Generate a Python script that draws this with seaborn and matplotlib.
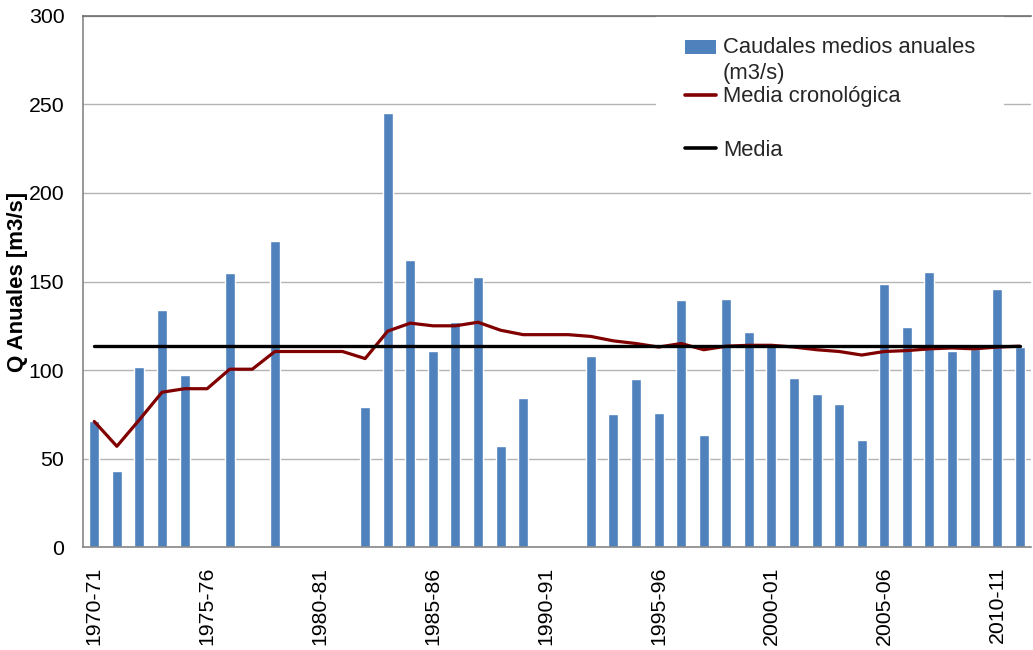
import numpy as np
import pandas as pd
import matplotlib
matplotlib.use("Agg")
import matplotlib.pyplot as plt
from matplotlib.patches import Patch, Rectangle
from matplotlib.lines import Line2D
from matplotlib.legend_handler import HandlerPatch
import seaborn as sns

# ---- data ----
years = [f"{y}-{str(y + 1)[-2:]}" for y in range(1970, 2012)]
caudales = [71, 43, 102, 134, 97, np.nan, 155, np.nan, 173, np.nan,
            np.nan, np.nan, 79, 245, 162, 111, 127, 152.5, 57, 84.5,
            np.nan, np.nan, 108, 75, 95, 76, 139.5, 63.5, 140, 121.5,
            114.5, 95.5, 86.5, 81, 60.5, 148.5, 124.5, 155.5, 111, 112,
            146, 113]
media_crono = [71, 57, 72, 87.5, 89.5, 89.5, 100.5, 100.5, 110.5, 110.5,
               110.5, 110.5, 106.5, 122, 126.5, 125, 125, 127, 122.5, 120,
               120, 120, 119, 116.5, 115, 113, 115, 111.5, 113.5, 114,
               114, 113, 111.5, 110.5, 108.5, 110.5, 111, 112, 112.5, 112,
               113, 113.5]
media = 113.5
tick_labels = ["1970-71", "1975-76", "1980-81", "1985-86", "1990-91",
               "1995-96", "2000-01", "2005-06", "2010-11"]
y_ticks = [0, 50, 100, 150, 200, 250, 300]

lbl_bar = "Caudales medios anuales\n(m3/s)"
lbl_crono = "Media cronológica"
lbl_media = "Media"

df = pd.DataFrame({"year": years, "caudal": caudales,
                   "crono": media_crono, "media": [media] * len(years)})

# ---- style ----
sns.set_theme(style="white")
plt.rcParams["font.family"] = ["Liberation Sans", "DejaVu Sans"]

BLUE = "#4f81bd"
RED = "#800000"

fig = plt.figure(figsize=(10.33, 6.5), dpi=100)
ax = fig.add_axes([83 / 1033, 1 - 547.3 / 650, 948 / 1033, (547.3 - 15.7) / 650])

sns.barplot(data=df, x="year", y="caudal", order=years, color=BLUE,
            saturation=1, width=0.44, ax=ax, zorder=2)
pos = np.arange(len(years))
sns.lineplot(x=pos, y=df["crono"].to_numpy(), color=RED, linewidth=2.3,
             ax=ax, sort=False, zorder=3)
sns.lineplot(x=pos, y=df["media"].to_numpy(), color="black", linewidth=2.4,
             ax=ax, sort=False, zorder=4)

ax.set_xlim(-0.5, len(years) - 0.5)
ax.set_ylim(0, 300)
ax.set_yticks(y_ticks)
ax.set_yticklabels([str(v) for v in y_ticks])
ax.set_xticks([years.index(t) for t in tick_labels])
ax.set_xticklabels(tick_labels, rotation=90)
ax.tick_params(axis="y", length=0, pad=13.5, labelsize=15.3, colors="black")
ax.tick_params(axis="x", length=0, pad=14, labelsize=15.3, colors="black")

ax.grid(axis="y", color="#b4b4b4", linewidth=1.0, zorder=0)
ax.set_axisbelow(True)
for s in ["left", "bottom", "top"]:
    ax.spines[s].set_visible(True)
    ax.spines[s].set_color("#868686")
    ax.spines[s].set_linewidth(1.2)
ax.spines["top"].set_color("#6e6e6e")
ax.spines["top"].set_zorder(10)
ax.spines["right"].set_visible(False)

ax.set_xlabel("")
ax.set_ylabel("Q Anuales [m3/s]", fontsize=16, fontweight="bold",
              labelpad=0.5, color="black")


def raised_patch(legend, orig_handle, xdescent, ydescent, width, height, fontsize):
    # align the swatch with the first line of the two-line label
    return Rectangle((-xdescent, -ydescent + 0.62 * fontsize), width, height)


handles = [Patch(facecolor=BLUE, edgecolor="none"),
           Line2D([], [], color=RED, linewidth=2.6),
           Line2D([], [], color="none"),
           Line2D([], [], color="black", linewidth=2.6)]
labels = [lbl_bar, lbl_crono, " ", lbl_media]
leg = ax.legend(handles, labels, loc="upper left",
                bbox_to_anchor=(656 / 1033, 1 - 8 / 650),
                bbox_transform=fig.transFigure, borderaxespad=0,
                borderpad=1.3, fontsize=15.8, frameon=True, fancybox=False,
                handlelength=1.45, handleheight=0.6, handletextpad=0.3,
                labelspacing=0.1,
                handler_map={Patch: HandlerPatch(patch_func=raised_patch)})
for t in leg.get_texts():
    t.set_linespacing(1.35)
leg.get_texts()[2].set_fontsize(21)
leg.get_frame().set_facecolor("white")
leg.get_frame().set_edgecolor("none")
leg.get_frame().set_alpha(1)
leg.set_zorder(5)

fig.savefig("out.png", dpi=100)
